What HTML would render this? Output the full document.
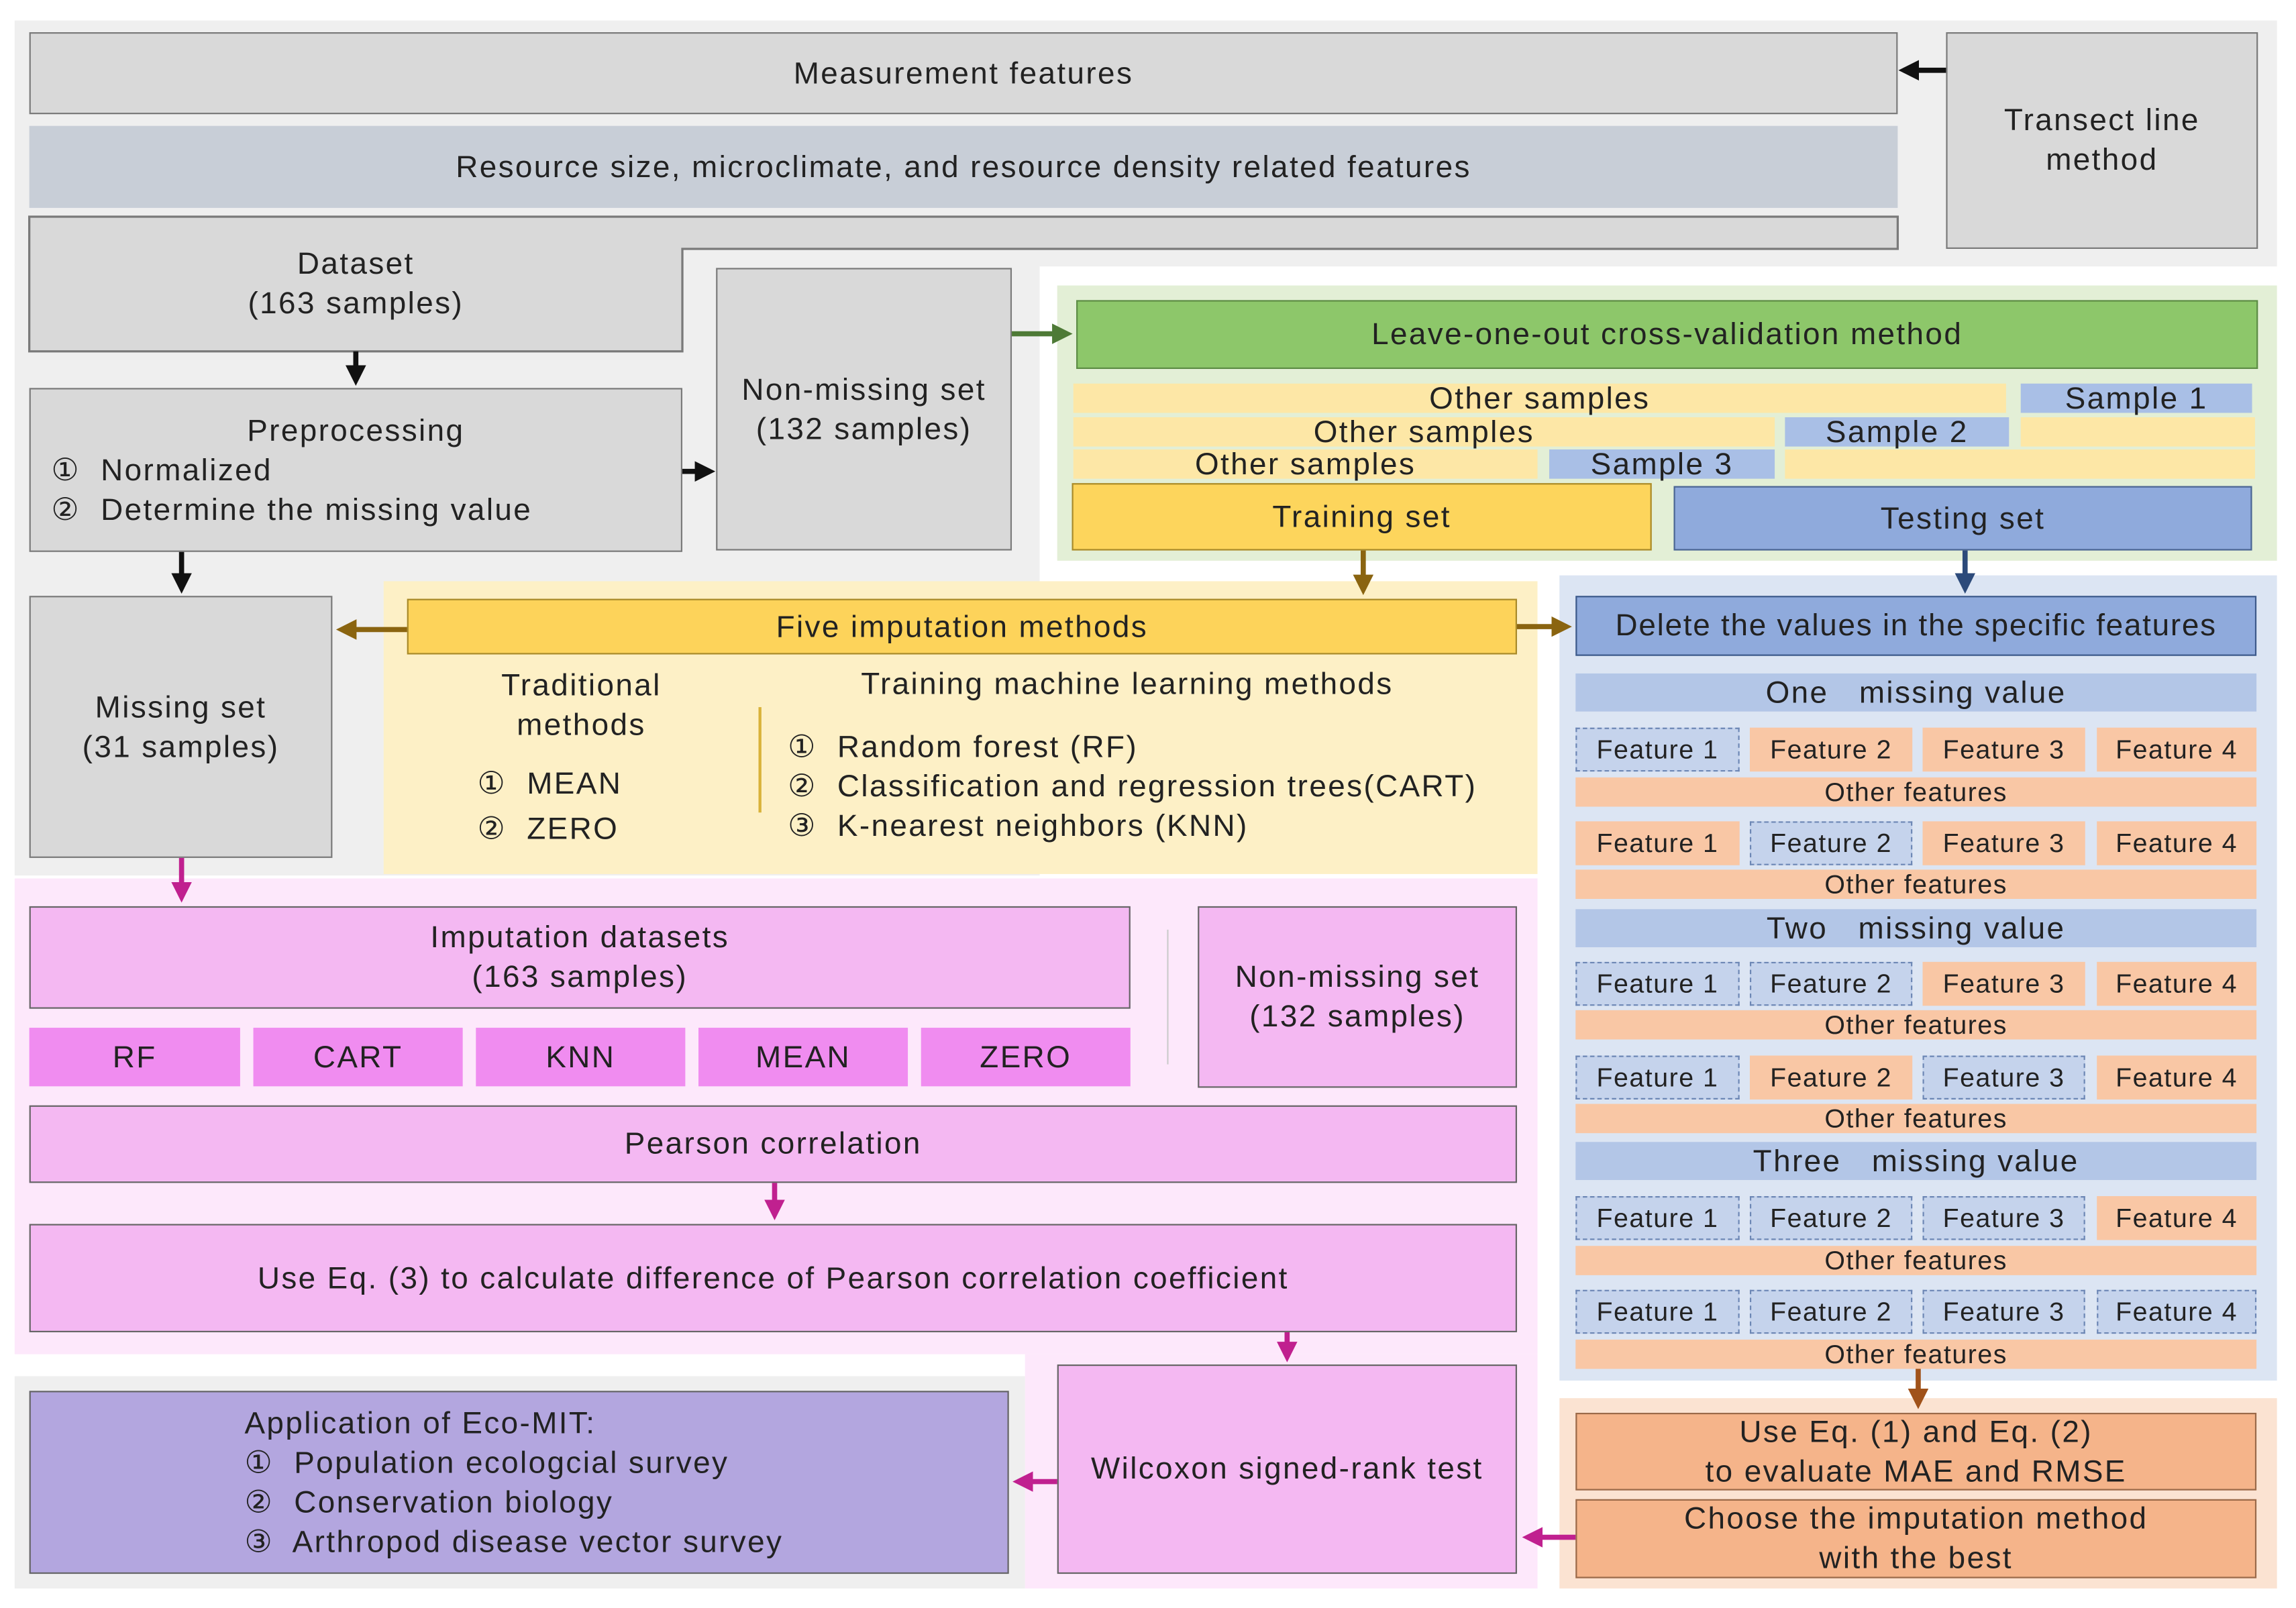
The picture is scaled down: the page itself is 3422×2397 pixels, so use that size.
<!DOCTYPE html>
<html><head><meta charset="utf-8"><style>
html,body{margin:0;padding:0;background:#fff;}
#w{position:absolute;left:0;top:0;width:1568px;height:1098px;transform:scale(2.1824);transform-origin:0 0;font-family:"Liberation Sans",sans-serif;color:#222;letter-spacing:1.1px;}
.b{position:absolute;box-sizing:border-box;display:flex;align-items:center;justify-content:center;text-align:center;font-size:21px;line-height:27px;}
.g{background:#d9d9d9;border:1.5px solid #7a7a7a;}
.bg{position:absolute;}
.t{position:absolute;font-size:21px;line-height:27px;white-space:nowrap;}
.y{background:#fde7a6;font-size:21px;}
.bl{background:#a9bfe6;font-size:21px;}
.f{background:#f9c7a5;font-size:18px;letter-spacing:0.7px;}
.fm{background:#c5d3ec;border:1.5px dashed #6d87b5;font-size:18px;letter-spacing:0.7px;}
.of{background:#f9c7a5;font-size:18px;line-height:20px;letter-spacing:0.7px;}
.mv{background:#b3c6e7;font-size:21px;}
.p{background:#f4b8f2;border:1.5px solid #666;}
.m{background:#f08cf0;font-size:21px;}
svg{position:absolute;left:0;top:0;}
</style></head><body><div id="w">
<div class="bg" style="left:10px;top:14px;width:1545px;height:168px;background:#efefef"></div>
<div class="bg" style="left:10px;top:180px;width:700px;height:418px;background:#efefef"></div>
<div class="bg" style="left:722px;top:195px;width:833px;height:188px;background:#e3efd6"></div>
<div class="bg" style="left:262px;top:397px;width:788px;height:200px;background:#fdf0c6"></div>
<div class="bg" style="left:1065px;top:393px;width:490px;height:550px;background:#dce5f3"></div>
<div class="bg" style="left:1065px;top:955px;width:490px;height:130px;background:#fbe3d2"></div>
<div class="bg" style="left:10px;top:600px;width:1040px;height:325px;background:#fde8fb"></div>
<div class="bg" style="left:700px;top:925px;width:350px;height:160px;background:#fde8fb"></div>
<div class="bg" style="left:10px;top:940px;width:690px;height:145px;background:#efefef"></div>

<div class="b g" style="left:20px;top:22px;width:1276px;height:56px">Measurement features</div>
<div class="b" style="left:20px;top:86px;width:1276px;height:56px;background:#c8ced7">Resource size, microclimate, and resource density related features</div>
<div class="b g" style="left:1329px;top:22px;width:213px;height:148px">Transect line<br>method</div>
<svg width="1568" height="1098">
<polygon points="20,148 1296,148 1296,170 466,170 466,240 20,240" fill="#d9d9d9" stroke="#7a7a7a" stroke-width="1.5"/>
</svg>
<div class="b" style="left:20px;top:150px;width:446px;height:88px">Dataset<br>(163 samples)</div>
<div class="b g" style="left:20px;top:265px;width:446px;height:112px;display:block;text-align:left"><div style="text-align:center;margin-top:15px">Preprocessing</div><div style="padding-left:14px">①&nbsp; Normalized<br>②&nbsp; Determine the missing value</div></div>
<div class="b g" style="left:489px;top:183px;width:202px;height:193px">Non-missing set<br>(132 samples)</div>
<div class="b g" style="left:20px;top:407px;width:207px;height:179px">Missing set<br>(31 samples)</div>

<div class="b" style="left:735px;top:205px;width:807px;height:47px;background:#8dc76a;border:1.5px solid #5d8c45">Leave-one-out cross-validation method</div>
<div class="b y" style="left:733px;top:262px;width:637px;height:20px">Other samples</div>
<div class="b bl" style="left:1380px;top:262px;width:158px;height:20px">Sample 1</div>
<div class="b y" style="left:733px;top:285px;width:479px;height:20px">Other samples</div>
<div class="b bl" style="left:1219px;top:285px;width:153px;height:20px">Sample 2</div>
<div class="b y" style="left:1380px;top:285px;width:160px;height:20px"></div>
<div class="b y" style="left:733px;top:307px;width:317px;height:20px">Other samples</div>
<div class="b bl" style="left:1058px;top:307px;width:154px;height:20px">Sample 3</div>
<div class="b y" style="left:1219px;top:307px;width:321px;height:20px"></div>
<div class="b" style="left:732px;top:330px;width:396px;height:46px;background:#fdd55c;border:1.5px solid #a88a2a">Training set</div>
<div class="b" style="left:1143px;top:332px;width:395px;height:44px;background:#8faadc;border:1.5px solid #4a6593">Testing set</div>

<div class="b" style="left:278px;top:409px;width:758px;height:38px;background:#fdd35a;border:1.5px solid #a88a2a">Five imputation methods</div>
<div class="t" style="left:297px;top:455px;width:200px;text-align:center">Traditional<br>methods</div>
<div class="t" style="left:326px;top:522px">①&nbsp; MEAN</div>
<div class="t" style="left:326px;top:553px">②&nbsp; ZERO</div>
<div class="bg" style="left:518px;top:483px;width:2px;height:72px;background:#d9b23a"></div>
<div class="t" style="left:588px;top:454px">Training machine learning methods</div>
<div class="t" style="left:538px;top:497px">①&nbsp; Random forest (RF)<br>②&nbsp; Classification and regression trees(CART)<br>③&nbsp; K-nearest neighbors (KNN)</div>

<div class="b" style="left:1076px;top:407px;width:465px;height:41px;background:#8faadc;border:1.5px solid #3d5a8a;letter-spacing:0.8px">Delete the values in the specific features</div>
<div class="b mv" style="left:1076px;top:460px;width:465px;height:26px">One&nbsp;&nbsp; missing value</div>
<div class="b mv" style="left:1076px;top:621px;width:465px;height:26px">Two&nbsp;&nbsp; missing value</div>
<div class="b mv" style="left:1076px;top:780px;width:465px;height:26px">Three&nbsp;&nbsp; missing value</div>
<div id="rows"></div>

<div class="b" style="left:1076px;top:965px;width:465px;height:53px;background:#f5b48a;border:1.5px solid #9a6a4a">Use Eq. (1) and Eq. (2)<br>to evaluate MAE and RMSE</div>
<div class="b" style="left:1076px;top:1024px;width:465px;height:54px;background:#f5b48a;border:1.5px solid #9a6a4a">Choose the imputation method<br>with the best</div>

<div class="b p" style="left:20px;top:619px;width:752px;height:70px">Imputation datasets<br>(163 samples)</div>
<div class="b m" style="left:20px;top:702px;width:144px;height:40px">RF</div>
<div class="b m" style="left:173px;top:702px;width:143px;height:40px">CART</div>
<div class="b m" style="left:325px;top:702px;width:143px;height:40px">KNN</div>
<div class="b m" style="left:477px;top:702px;width:143px;height:40px">MEAN</div>
<div class="b m" style="left:629px;top:702px;width:143px;height:40px">ZERO</div>
<div class="bg" style="left:797px;top:635px;width:1px;height:92px;background:#ccc"></div>
<div class="b p" style="left:818px;top:619px;width:218px;height:124px">Non-missing set<br>(132 samples)</div>
<div class="b p" style="left:20px;top:755px;width:1016px;height:53px">Pearson correlation</div>
<div class="b p" style="left:20px;top:836px;width:1016px;height:74px">Use Eq. (3) to calculate difference of Pearson correlation coefficient</div>
<div class="b p" style="left:722px;top:932px;width:314px;height:143px">Wilcoxon signed-rank test</div>
<div class="b" style="left:20px;top:950px;width:669px;height:125px;background:#b3a6df;border:1.5px solid #666;display:block;text-align:left;padding:8px 0 0 146px">Application of Eco-MIT:<br>①&nbsp; Population ecologcial survey<br>②&nbsp; Conservation biology<br>③&nbsp; Arthropod disease vector survey</div>

<svg width="1568" height="1098">
<defs>
<marker id="k" markerWidth="4" markerHeight="4" refX="3" refY="2" orient="auto"><path d="M0,0L4,2L0,4z" fill="#111"/></marker>
<marker id="gr" markerWidth="4" markerHeight="4" refX="3" refY="2" orient="auto"><path d="M0,0L4,2L0,4z" fill="#4e7a36"/></marker>
<marker id="br" markerWidth="4" markerHeight="4" refX="3" refY="2" orient="auto"><path d="M0,0L4,2L0,4z" fill="#8a6410"/></marker>
<marker id="db" markerWidth="4" markerHeight="4" refX="3" refY="2" orient="auto"><path d="M0,0L4,2L0,4z" fill="#2c4a7a"/></marker>
<marker id="mg" markerWidth="4" markerHeight="4" refX="3" refY="2" orient="auto"><path d="M0,0L4,2L0,4z" fill="#c0208f"/></marker>
<marker id="or" markerWidth="4" markerHeight="4" refX="3" refY="2" orient="auto"><path d="M0,0L4,2L0,4z" fill="#a0521a"/></marker>
</defs>
<g stroke-width="3.5" fill="none">
<line x1="1329" y1="48" x2="1300" y2="48" stroke="#111" marker-end="url(#k)"/>
<line x1="243" y1="240" x2="243" y2="260" stroke="#111" marker-end="url(#k)"/>
<line x1="466" y1="322" x2="485" y2="322" stroke="#111" marker-end="url(#k)"/>
<line x1="124" y1="377" x2="124" y2="402" stroke="#111" marker-end="url(#k)"/>
<line x1="691" y1="228" x2="729" y2="228" stroke="#4e7a36" marker-end="url(#gr)"/>
<line x1="931" y1="376" x2="931" y2="403" stroke="#8a6410" marker-end="url(#br)"/>
<line x1="278" y1="430" x2="233" y2="430" stroke="#8a6410" marker-end="url(#br)"/>
<line x1="1036" y1="428" x2="1070" y2="428" stroke="#8a6410" marker-end="url(#br)"/>
<line x1="1342" y1="376" x2="1342" y2="402" stroke="#2c4a7a" marker-end="url(#db)"/>
<line x1="1310" y1="935" x2="1310" y2="959" stroke="#a0521a" marker-end="url(#or)"/>
<line x1="124" y1="586" x2="124" y2="613" stroke="#c0208f" marker-end="url(#mg)"/>
<line x1="529" y1="808" x2="529" y2="830" stroke="#c0208f" marker-end="url(#mg)"/>
<line x1="879" y1="910" x2="879" y2="927" stroke="#c0208f" marker-end="url(#mg)"/>
<line x1="722" y1="1012" x2="695" y2="1012" stroke="#c0208f" marker-end="url(#mg)"/>
<line x1="1076" y1="1050" x2="1043" y2="1050" stroke="#c0208f" marker-end="url(#mg)"/>
</g></svg>
</div>
<script>
var rows=[[497,531,[1]],[561,594,[2]],[657,690,[1,2]],[721,754,[1,3]],[817,851,[1,2,3]],[881,915,[1,2,3,4]]];
var xs=[[1076,112],[1195,111],[1313,111],[1432,109]];var h='';
rows.forEach(function(r){for(var i=0;i<4;i++){var m=r[2].indexOf(i+1)>=0;
h+='<div class="b '+(m?'fm':'f')+'" style="left:'+xs[i][0]+'px;top:'+r[0]+'px;width:'+xs[i][1]+'px;height:30px">Feature '+(i+1)+'</div>';}
h+='<div class="b of" style="left:1076px;top:'+r[1]+'px;width:465px;height:20px">Other features</div>';});
document.getElementById('rows').innerHTML=h;
</script>
</body></html>
